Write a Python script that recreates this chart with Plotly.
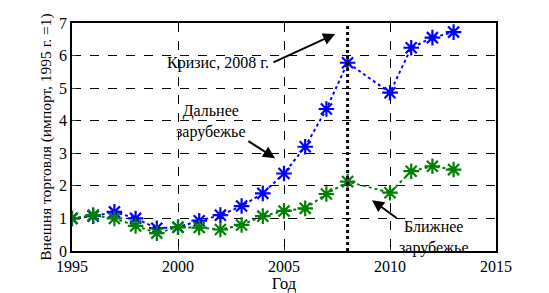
import plotly.graph_objects as go

years_far = [1995, 1996, 1997, 1998, 1999, 2000, 2001, 2002, 2003, 2004, 2005, 2006, 2007, 2008, 2010, 2011, 2012, 2013]
far = [1.0, 1.07, 1.2, 1.0, 0.7, 0.73, 0.93, 1.1, 1.38, 1.77, 2.38, 3.2, 4.36, 5.78, 4.86, 6.24, 6.55, 6.72]
years_near = [1995, 1996, 1997, 1998, 1999, 2000, 2001, 2002, 2003, 2004, 2005, 2006, 2007, 2008, 2010, 2011, 2012, 2013]
near = [1.0, 1.1, 1.0, 0.77, 0.55, 0.73, 0.72, 0.66, 0.8, 1.07, 1.23, 1.31, 1.75, 2.13, 1.79, 2.45, 2.6, 2.5]
x_ticks = [1995, 2000, 2005, 2010, 2015]
y_ticks = [0, 1, 2, 3, 4, 5, 6, 7]
crisis_year = 2008

FONT = "Liberation Serif"

fig = go.Figure()
fig.add_trace(go.Scatter(x=years_far, y=far, mode="lines+markers",
                         line=dict(color="#0000ff", width=2, dash="dot"),
                         marker=dict(symbol="asterisk-open", size=13, color="#0000ff",
                                     line=dict(color="#0000ff", width=2.2)),
                         showlegend=False))
fig.add_trace(go.Scatter(x=years_near, y=near, mode="lines+markers",
                         line=dict(color="#008000", width=2, dash="dot"),
                         marker=dict(symbol="asterisk-open", size=13, color="#008000",
                                     line=dict(color="#008000", width=2.2)),
                         showlegend=False))

fig.add_shape(type="line", x0=crisis_year, x1=crisis_year, y0=0, y1=7, xref="x", yref="y",
              line=dict(color="black", width=3, dash="dot"), layer="above")

anns = [
    dict(x=2007.41, y=6.66, ax=2004.43, ay=5.77),
    dict(x=2004.58, y=2.85, ax=2003.25, ay=3.4),
    dict(x=2009.15, y=1.56, ax=2010.38, ay=0.98),
]
for a in anns:
    fig.add_annotation(x=a["x"], y=a["y"], ax=a["ax"], ay=a["ay"], xref="x", yref="y",
                       axref="x", ayref="y", text="", showarrow=True, arrowhead=2,
                       arrowsize=1.2, arrowwidth=2, arrowcolor="black", standoff=0)

texts = [
    dict(x=2001.91, y=5.77, text="Кризис, 2008 г."),
    dict(x=2001.53, y=3.97, text="Дальнее<br>зарубежье"),
    dict(x=2012.03, y=0.40, text="Ближнее<br>зарубежье"),
]
for t in texts:
    fig.add_annotation(x=t["x"], y=t["y"], xref="x", yref="y", text=t["text"], showarrow=False,
                       font=dict(family=FONT, size=16, color="black"), align="center",
                       xanchor="center", yanchor="middle", borderpad=0,
                       bgcolor="rgba(255,255,255,0)")

# page body has an 8px default margin, so the figure is sized/offset to compensate
fig.update_layout(
    width=541, height=285,
    margin=dict(l=64, r=53, t=15, b=42, autoexpand=False),
    paper_bgcolor="white", plot_bgcolor="white",
    font=dict(family=FONT, size=16, color="black"),
)
fig.update_xaxes(range=[1995, 2015], tickvals=x_ticks, showgrid=True, gridcolor="black",
                 griddash="dash", gridwidth=1, showline=True, linecolor="black", linewidth=1.5,
                 mirror=True, ticks="inside", ticklen=4, zeroline=False, automargin=False,
                 title=dict(text="Год", font=dict(size=16.5), standoff=2))
fig.update_yaxes(range=[0, 7], tickvals=y_ticks, showgrid=True, gridcolor="black",
                 griddash="dash", gridwidth=1, showline=True, linecolor="black", linewidth=1.5,
                 mirror=True, ticks="inside", ticklen=4, zeroline=False, automargin=False,
                 title=dict(text="Внешня торговля (импорт, 1995 г. =1)", font=dict(size=15.5), standoff=4))

fig.write_html("out.html")
